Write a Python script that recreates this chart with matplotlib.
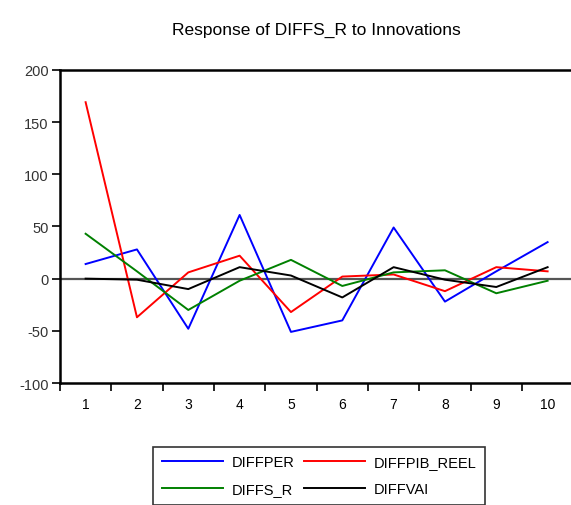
import matplotlib
matplotlib.use("Agg")
import matplotlib.pyplot as plt
import numpy as np

plt.rcParams['font.family'] = ['Liberation Sans', 'DejaVu Sans']
plt.rcParams['axes.unicode_minus'] = False

periods = np.arange(1, 11)
diffper = [14, 28, -48, 61, -51, -40, 49, -22, 7, 35]
diffpib_reel = [169, -37, 6, 22, -32, 2, 4, -12, 11, 7]
diffs_r = [43, 7, -30, -2, 18, -7, 6, 8, -14, -2]
diffvai = [0, -1, -10, 11, 3, -18, 11, -1, -8, 11]

fig = plt.figure(figsize=(5.71, 5.06), dpi=100)
ax = fig.add_axes([0.105, 0.241, 0.899, 0.619])

ax.axhline(0, color='#555555', lw=1.6, zorder=1)
l1, = ax.plot(periods, diffper, color='#0000ff', lw=1.4, label='DIFFPER')
l2, = ax.plot(periods, diffpib_reel, color='#ff0000', lw=1.4, label='DIFFPIB_REEL')
l3, = ax.plot(periods, diffs_r, color='#008000', lw=1.4, label='DIFFS_R')
l4, = ax.plot(periods, diffvai, color='#000000', lw=1.4, label='DIFFVAI')

ax.set_xlim(0.5, 10.5)
ax.set_ylim(-100, 200)
ax.set_yticks([-100, -50, 0, 50, 100, 150, 200])
ax.set_xticks(np.arange(0.5, 11, 1))
ax.set_xticklabels([])
ax.set_xticks(periods, minor=True)
ax.set_xticklabels([str(p) for p in periods], minor=True)
ax.tick_params(axis='x', which='minor', length=0, pad=10)
ax.tick_params(axis='x', which='major', length=6, width=1.2, direction='out')
ax.tick_params(axis='y', length=6, width=1.2, direction='out', pad=2)
ax.tick_params(labelsize=10.5, labelcolor='#333333')

for s in ax.spines.values():
    s.set_linewidth(1.8)

ax.set_title("Response of DIFFS_R to Innovations", fontsize=12.5, pad=26)

# row-wise order like the original: matplotlib fills columns first
ax.legend([l1, l3, l2, l4], ['DIFFPER', 'DIFFS_R', 'DIFFPIB_REEL', 'DIFFVAI'],
          loc='upper center', bbox_to_anchor=(0.559, 0.13), bbox_transform=fig.transFigure,
          ncol=2, fontsize=10.5, frameon=True, fancybox=False, edgecolor='black',
          handlelength=4.2, handletextpad=0.6, columnspacing=0.6, borderpad=0.6,
          labelspacing=0.9)
leg = ax.get_legend()
leg.get_frame().set_linewidth(1.2)

fig.savefig("out.png", dpi=100)
